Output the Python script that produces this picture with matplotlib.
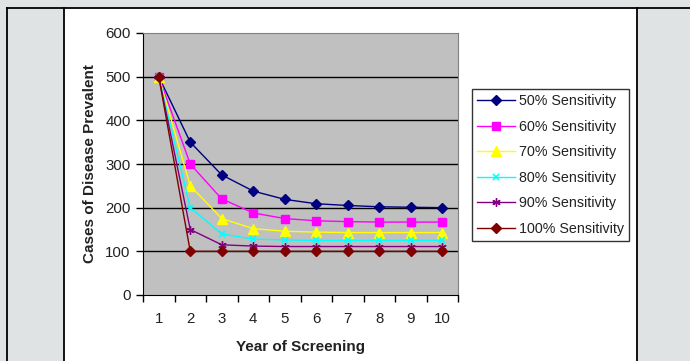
import matplotlib
matplotlib.use("Agg")
import matplotlib.pyplot as plt
from matplotlib.patches import Rectangle
from matplotlib.lines import Line2D

plt.rcParams['font.family'] = ['Liberation Sans', 'DejaVu Sans']

years = [1, 2, 3, 4, 5, 6, 7, 8, 9, 10]
year_labels = ['1', '2', '3', '4', '5', '6', '7', '8', '9', '10']
sens50 = [500, 350, 275, 238, 219, 209, 205, 202, 201, 200]
sens60 = [500, 300, 220, 188, 175, 170, 168, 167, 167, 167]
sens70 = [500, 250, 175, 152, 146, 144, 143, 143, 143, 143]
sens80 = [500, 200, 140, 128, 126, 125, 125, 125, 125, 125]
sens90 = [500, 150, 115, 112, 111, 111, 111, 111, 111, 111]
sens100 = [500, 100, 100, 100, 100, 100, 100, 100, 100, 100]
series_names = ['50% Sensitivity', '60% Sensitivity', '70% Sensitivity',
                '80% Sensitivity', '90% Sensitivity', '100% Sensitivity']
y_ticks = [0, 100, 200, 300, 400, 500, 600]

W, H = 690, 361
fig = plt.figure(figsize=(W / 100, H / 100), dpi=100)
fig.patch.set_facecolor('#E0E3E3')

def fx(px):
    return px / W

def fy(py):
    return 1 - py / H

# white chart panel
fig.patches.append(Rectangle((fx(64), 0), fx(637) - fx(64), fy(8), transform=fig.transFigure,
                             facecolor='white', edgecolor='none', zorder=-5))
for x in (7, 64, 637):
    fig.add_artist(Line2D([fx(x), fx(x)], [0, fy(8)], transform=fig.transFigure, color='black', lw=1.3, zorder=-4))
fig.add_artist(Line2D([fx(7), 1], [fy(8), fy(8)], transform=fig.transFigure, color='black', lw=1.3, zorder=-4))

ax = fig.add_axes([fx(143), fy(295), fx(458) - fx(143), fy(33) - fy(295)])
ax.set_facecolor('#C0C0C0')

styles = [
    dict(color='#000080', marker='D', ms=5),
    dict(color='#FF00FF', marker='s', ms=6),
    dict(color='#FFFF00', marker='^', ms=7),
    dict(color='#00FFFF', marker='x', ms=5, mew=1.2),
    dict(color='#800080', marker=(6, 2, 0), ms=6, mew=1.0),
    dict(color='#800000', marker='D', ms=5),
]
data = [sens50, sens60, sens70, sens80, sens90, sens100]
for vals, name, st in zip(data, series_names, styles):
    ax.plot(years, vals, lw=1.0, label=name, clip_on=False, zorder=3, **st)

ax.set_ylim(0, 600)
ax.set_yticks(y_ticks)
ax.set_xlim(0.5, 10.5)
ax.set_xticks([i + 0.5 for i in range(0, 11)])
ax.set_xticklabels([])
ax.set_xticks(years, minor=True)
ax.set_xticklabels(year_labels, minor=True)
ax.tick_params(axis='x', which='major', direction='out', length=5, width=1, color='black')
ax.tick_params(axis='x', which='minor', length=0, pad=12, labelsize=10.8, labelcolor='#222222')
ax.tick_params(axis='y', direction='out', length=5, width=1, labelsize=10.8, labelcolor='#222222', pad=4)
for v in y_ticks[1:-1]:
    ax.axhline(v, color='black', lw=1.0, zorder=1)
for s in ('top', 'right'):
    ax.spines[s].set_color('#808080')
for s in ('left', 'bottom'):
    ax.spines[s].set_color('black')

ax.set_xlabel('Year of Screening', fontsize=11, fontweight='bold', labelpad=10, color='#222222')
ax.set_ylabel('Cases of Disease Prevalent', fontsize=11, fontweight='bold', labelpad=6, color='#222222')

ax_w = 458 - 143
ax_h = 295 - 33
leg = ax.legend(loc='upper left',
                bbox_to_anchor=((472 - 143) / ax_w, (295 - 89) / ax_h),
                fontsize=10.3, frameon=True, fancybox=False, edgecolor='black', facecolor='white',
                handlelength=2.6, labelspacing=0.8, borderpad=0.38, handletextpad=0.3, borderaxespad=0)
leg.get_frame().set_linewidth(1.0)
for t in leg.get_texts():
    t.set_color('#222222')

fig.savefig('out.png', dpi=100, facecolor=fig.get_facecolor())
